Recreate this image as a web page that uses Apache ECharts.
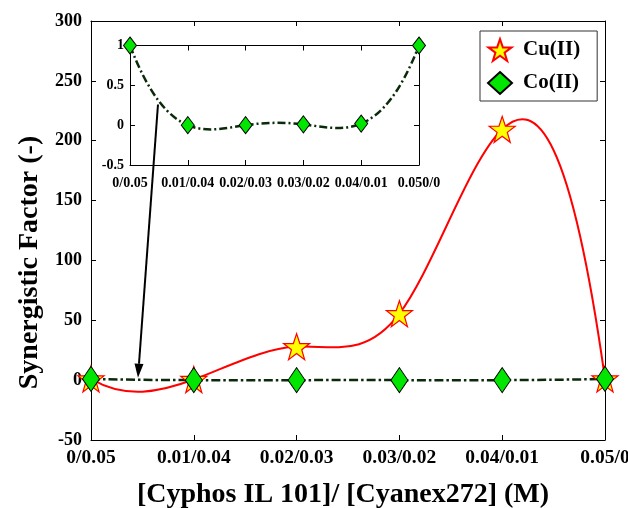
<!DOCTYPE html>
<html>
<head>
<meta charset="utf-8">
<script src="https://cdn.jsdelivr.net/npm/echarts@6/dist/echarts.min.js"></script>
<style>
  html, body { margin: 0; padding: 0; background: #fff; }
  #chart { width: 628px; height: 508px; }
</style>
</head>
<body>
<div id="chart"></div>
<script>
// Mixture ratios [Cyphos IL 101]/[Cyanex272] (M)
const mainLabels = ['0/0.05', '0.01/0.04', '0.02/0.03', '0.03/0.02', '0.04/0.01', '0.05/0'];
const insetLabels = ['0/0.05', '0.01/0.04', '0.02/0.03', '0.03/0.02', '0.04/0.01', '0.050/0'];
// Synergistic factor values
const cuValues = [1, 0.5, 28, 55.5, 209.5, 1];
const coValues = [1, 0, 0, 0.01, 0.02, 1];
// Axis ticks
const mainYTicks = { min: -50, max: 300, step: 50 };
const insetYTicks = { min: -0.5, max: 1, step: 0.5 };

const FONT = '"Liberation Serif", "Times New Roman", serif';
const STAR = 'path://M50,0 L61.8,34.5 L97.6,34.5 L68.8,55.9 L79.4,90.5 L50,69 L20.6,90.5 L31.2,55.9 L2.4,34.5 L38.2,34.5 Z';

// Not-a-knot cubic spline second derivatives for unit-spaced knots
function splineMoments(ys) {
  const n = ys.length;
  const A = [], b = [];
  for (let r = 0; r < n; r++) { A.push(new Array(n).fill(0)); b.push(0); }
  A[0][0] = 1; A[0][1] = -2; A[0][2] = 1;
  for (let i = 1; i < n - 1; i++) {
    A[i][i - 1] = 1; A[i][i] = 4; A[i][i + 1] = 1;
    b[i] = 6 * (ys[i + 1] - 2 * ys[i] + ys[i - 1]);
  }
  A[n - 1][n - 3] = 1; A[n - 1][n - 2] = -2; A[n - 1][n - 1] = 1;
  for (let c = 0; c < n; c++) {
    let p = c;
    for (let r = c + 1; r < n; r++) if (Math.abs(A[r][c]) > Math.abs(A[p][c])) p = r;
    [A[c], A[p]] = [A[p], A[c]]; [b[c], b[p]] = [b[p], b[c]];
    for (let r = 0; r < n; r++) {
      if (r === c) continue;
      const f = A[r][c] / A[c][c];
      if (!f) continue;
      for (let k = c; k < n; k++) A[r][k] -= f * A[c][k];
      b[r] -= f * b[c];
    }
  }
  return b.map((v, i) => v / A[i][i]);
}

// Smooth curve series: each spline piece is an exact cubic Bezier in axis space
function curveSeries(ys, xi, yi, style, z) {
  const M = splineMoments(ys);
  return {
    type: 'custom',
    xAxisIndex: xi, yAxisIndex: yi,
    z: z, silent: true, clip: true,
    data: ys.map((y, i) => [i, y]),
    encode: { x: 0, y: 1 },
    renderItem: function (params, api) {
      if (params.dataIndex !== 0) return null;
      const children = [];
      for (let i = 0; i < ys.length - 1; i++) {
        const y0 = ys[i], y1 = ys[i + 1];
        const s0 = y1 - y0 - (2 * M[i] + M[i + 1]) / 6;
        const s1 = y1 - y0 + (M[i] + 2 * M[i + 1]) / 6;
        const p0 = api.coord([i, y0]);
        const p1 = api.coord([i + 1, y1]);
        const c1 = api.coord([i + 1 / 3, y0 + s0 / 3]);
        const c2 = api.coord([i + 2 / 3, y1 - s1 / 3]);
        children.push({
          type: 'bezierCurve',
          shape: { x1: p0[0], y1: p0[1], x2: p1[0], y2: p1[1],
                   cpx1: c1[0], cpy1: c1[1], cpx2: c2[0], cpy2: c2[1] },
          style: Object.assign({ fill: null }, style)
        });
      }
      return { type: 'group', children: children };
    }
  };
}

function boxAxis(pos, gridIndex, extra) {
  return Object.assign({
    gridIndex: gridIndex, position: pos,
    axisLine: { show: true, onZero: false, lineStyle: { color: '#000', width: 1 } },
    axisTick: { show: true, inside: true, length: 5, lineStyle: { color: '#000' } },
    axisLabel: { show: false },
    splitLine: { show: false }
  }, extra);
}

const chart = echarts.init(document.getElementById('chart'), null, { renderer: 'canvas' });

const option = {
  backgroundColor: '#fff',
  animation: false,
  grid: [
    { left: 91, right: 23, top: 21, bottom: 68, outerBoundsMode: 'none', containLabel: false },
    { left: 130, right: 209, top: 45.5, bottom: 343, outerBoundsMode: 'none', containLabel: false,
      show: true, backgroundColor: '#fff', borderWidth: 0, z: 5 }
  ],
  legend: {
    orient: 'vertical', left: 480, top: 31,
    borderColor: '#333', borderWidth: 1, backgroundColor: '#fff',
    padding: [7, 17, 6, 7], itemWidth: 24, itemHeight: 22, itemGap: 9,
    textStyle: { fontFamily: FONT, fontWeight: 'bold', fontSize: 21, color: '#000', padding: [0, 0, 0, 6] },
    data: [{ name: 'Cu(II)', icon: STAR }, { name: 'Co(II)', icon: 'diamond' }]
  },
  xAxis: [
    boxAxis('bottom', 0, {
      type: 'value', min: 0, max: 5, interval: 1,
      axisLabel: { show: true, margin: 8, fontFamily: FONT, fontWeight: 'bold', fontSize: 19.5, color: '#000',
                   formatter: v => mainLabels[v] },
      name: '[Cyphos IL 101]/ [Cyanex272] (M)', nameLocation: 'middle', nameGap: 41,
      nameTextStyle: { fontFamily: FONT, fontWeight: 'bold', fontSize: 28, color: '#000', padding: [0, 10, 0, 0] }
    }),
    boxAxis('top', 0, { type: 'value', min: 0, max: 5, interval: 1 }),
    boxAxis('bottom', 1, {
      type: 'value', min: 0, max: 5, interval: 1, z: 6,
      axisLabel: { show: true, margin: 11, fontFamily: FONT, fontWeight: 'bold', fontSize: 14, color: '#000',
                   formatter: v => insetLabels[v] }
    }),
    boxAxis('top', 1, { type: 'value', min: 0, max: 5, interval: 1, z: 6 })
  ],
  yAxis: [
    boxAxis('left', 0, {
      type: 'value', min: mainYTicks.min, max: mainYTicks.max, interval: mainYTicks.step,
      axisLabel: { show: true, margin: 9, fontFamily: FONT, fontWeight: 'bold', fontSize: 18, color: '#000' },
      name: 'Synergistic Factor (-)', nameLocation: 'middle', nameGap: 47, nameRotate: 90,
      nameTextStyle: { fontFamily: FONT, fontWeight: 'bold', fontSize: 28, color: '#000', padding: [0, 64, 0, 0] }
    }),
    boxAxis('right', 0, { type: 'value', min: mainYTicks.min, max: mainYTicks.max, interval: mainYTicks.step }),
    boxAxis('left', 1, {
      type: 'value', min: insetYTicks.min, max: insetYTicks.max, interval: insetYTicks.step, z: 6,
      axisLabel: { show: true, margin: 6, fontFamily: FONT, fontWeight: 'bold', fontSize: 14, color: '#000' }
    }),
    boxAxis('right', 1, { type: 'value', min: insetYTicks.min, max: insetYTicks.max, interval: insetYTicks.step, z: 6 })
  ],
  series: [
    curveSeries(cuValues, 0, 0, { stroke: '#ff0000', lineWidth: 2 }, 2),
    curveSeries(coValues, 0, 0, { stroke: '#0a2a0a', lineWidth: 2.5, lineDash: [9, 3, 2.5, 3] }, 3),
    {
      name: 'Cu(II)', type: 'scatter', xAxisIndex: 0, yAxisIndex: 0, z: 4,
      symbol: STAR, symbolSize: 26,
      itemStyle: { color: '#ffff00', borderColor: '#ff0000', borderWidth: 1.2, opacity: 1 },
      data: cuValues.map((v, i) => [i, v])
    },
    {
      name: 'Co(II)', type: 'scatter', xAxisIndex: 0, yAxisIndex: 0, z: 5,
      symbol: 'diamond', symbolSize: [17, 25],
      itemStyle: { color: '#00e600', borderColor: '#000', borderWidth: 1, opacity: 1 },
      data: coValues.map((v, i) => [i, v])
    },
    curveSeries(coValues, 2, 2, { stroke: '#0a2a0a', lineWidth: 2.5, lineDash: [8, 3, 2, 3] }, 7),
    {
      name: 'Co(II) inset', type: 'scatter', xAxisIndex: 2, yAxisIndex: 2, z: 8,
      symbol: 'diamond', symbolSize: [13, 17],
      itemStyle: { color: '#00e600', borderColor: '#000', borderWidth: 1, opacity: 1 },
      data: coValues.map((v, i) => [i, v])
    }
  ]
};
chart.setOption(option);

// Arrow pointing from the inset curve down to the Co(II) trace in the main plot
const tail = chart.convertToPixel({ xAxisIndex: 2, yAxisIndex: 2 }, [0.484, 0.26]);
const tip = chart.convertToPixel({ xAxisIndex: 0, yAxisIndex: 0 }, [0.457, 2]);
const dx = tip[0] - tail[0], dy = tip[1] - tail[1];
const len = Math.sqrt(dx * dx + dy * dy);
const ux = dx / len, uy = dy / len;
const headLen = 14, headW = 4.5;
const base = [tip[0] - ux * headLen, tip[1] - uy * headLen];
chart.setOption({
  graphic: [
    { type: 'line', z: 100, silent: true,
      shape: { x1: tail[0], y1: tail[1], x2: base[0], y2: base[1] },
      style: { stroke: '#000', lineWidth: 2 } },
    { type: 'polygon', z: 100, silent: true,
      shape: { points: [tip, [base[0] - uy * headW, base[1] + ux * headW], [base[0] + uy * headW, base[1] - ux * headW]] },
      style: { fill: '#000' } }
  ]
});
</script>
</body>
</html>
